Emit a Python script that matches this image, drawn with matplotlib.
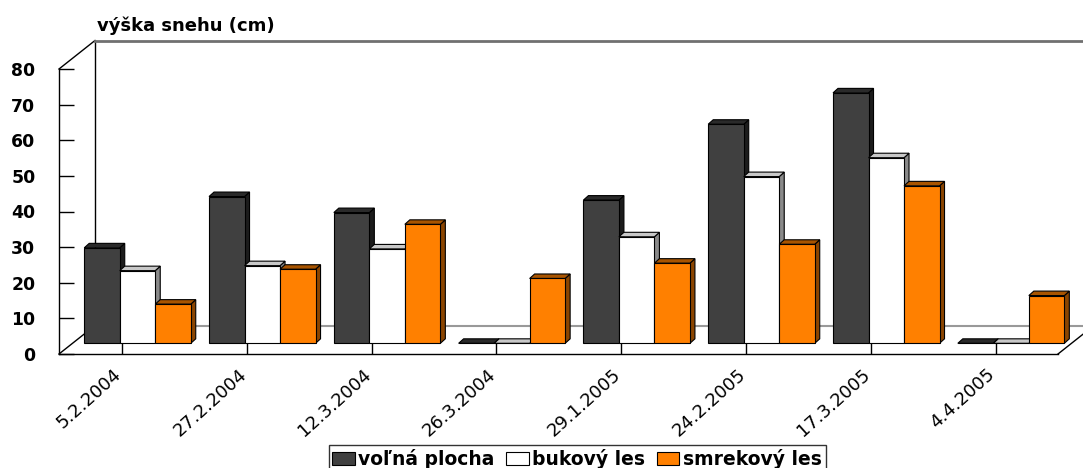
import matplotlib.pyplot as plt
import matplotlib.transforms as mtransforms
from matplotlib.patches import Polygon, Patch

# data
dates = ['5.2.2004', '27.2.2004', '12.3.2004', '26.3.2004',
         '29.1.2005', '24.2.2005', '17.3.2005', '4.4.2005']
volna_plocha = [26.8, 41.2, 36.7, 0, 40.2, 61.5, 70.3, 0]
bukovy_les = [20.4, 21.8, 26.5, 0, 29.9, 46.8, 52.1, 0]
smrekovy_les = [11.0, 20.8, 33.4, 18.2, 22.5, 27.8, 44.2, 13.4]
series_names = ['voľná plocha', 'bukový les', 'smrekový les']
y_ticks = [0, 10, 20, 30, 40, 50, 60, 70, 80]

# front, side, top colours for each series
face_cols = [('#404040', '#1c1c1c', '#2a2a2a'),
             ('#ffffff', '#8a8a8a', '#c8c8c8'),
             ('#ff8000', '#8b4500', '#a85400')]

W, H = 1083, 468
fig = plt.figure(figsize=(W / 100, H / 100), dpi=100)

# axes = front plane of the pseudo 3d box
ax = fig.add_axes([59 / W, 1 - 354 / H, (1058 - 59) / W, (354 - 69) / H])
xl, xr = -0.505, 7.5
ax.set_xlim(xl, xr)
ax.set_ylim(0, 80)
ax.patch.set_visible(False)
for s in ['top', 'right']:
    ax.spines[s].set_visible(False)
for s in ['left', 'bottom']:
    ax.spines[s].set_linewidth(1.0)
    ax.spines[s].set_color('black')

DX, DY = 0.2885, 8.0          # depth of the back wall (data units)
BAR_DX, BAR_DY = 0.124, 3.0   # depth where the bars stand
BDX, BDY = 0.04, 1.26         # thickness of the bars
bar_w = 0.2845

# walls / floor
line_kw = dict(clip_on=False, zorder=1)
ax.plot([xl, xl + DX], [80, 80 + DY], color='black', lw=1, **line_kw)
ax.plot([xl, xl + DX], [0, DY], color='black', lw=1, **line_kw)
ax.plot([xl + DX, xl + DX], [DY, 80 + DY], color='black', lw=1, **line_kw)
ax.plot([xl + DX, xr + DX + 0.3], [80 + DY, 80 + DY], color='#707070', lw=2, **line_kw)
ax.plot([xl + DX, xr + DX + 0.3], [DY, DY], color='#999999', lw=1.5, **line_kw)
ax.plot([xr, xr + DX], [0, DY], color='black', lw=1, **line_kw)

# bars
values = [volna_plocha, bukovy_les, smrekovy_les]
for i in range(len(dates)):
    for j in range(3):
        v = values[j][i]
        front_c, side_c, top_c = face_cols[j]
        x0 = i - 1.5 * bar_w + j * bar_w + BAR_DX
        x1 = x0 + bar_w
        base = BAR_DY
        top = base + v
        zo = 3 + i * 3 + j
        side = [(x1, base), (x1 + BDX, base + BDY), (x1 + BDX, top + BDY), (x1, top)]
        topf = [(x0, top), (x1, top), (x1 + BDX, top + BDY), (x0 + BDX, top + BDY)]
        front = [(x0, base), (x1, base), (x1, top), (x0, top)]
        for pts, c in [(side, side_c), (topf, top_c), (front, front_c)]:
            ax.add_patch(Polygon(pts, closed=True, facecolor=c, edgecolor='black',
                                 lw=0.8, zorder=zo, clip_on=False))

# ticks
ax.set_yticks(y_ticks)
ax.set_yticklabels([str(t) for t in y_ticks], fontsize=12.4, fontweight='bold')
ax.tick_params(axis='y', direction='in', length=10.8, width=1, pad=17)
ax.set_xticks(range(len(dates)))
ax.set_xticklabels(dates, rotation=42, ha='right', rotation_mode='anchor', fontsize=13)
ax.tick_params(axis='x', direction='in', length=7.9, width=1, pad=8)
shift = mtransforms.ScaledTranslation(-0.09, 0, fig.dpi_scale_trans)
for lab in ax.get_xticklabels():
    lab.set_transform(lab.get_transform() + shift)

fig.text(97 / W, 1 - 26 / H, 'výška snehu (cm)', fontsize=13, fontweight='bold',
         ha='left', va='center')

handles = [Patch(facecolor=face_cols[j][0], edgecolor='black', lw=0.8) for j in range(3)]
leg = fig.legend(handles, series_names, loc='upper center', ncol=3,
                 bbox_to_anchor=(577 / W, 1 - 445 / H), frameon=True, fancybox=False,
                 edgecolor='black', prop={'size': 13.5, 'weight': 'bold'},
                 handlelength=1.2, handleheight=0.7, handletextpad=0.2,
                 columnspacing=0.6, borderpad=0.2, borderaxespad=0)
leg.get_frame().set_linewidth(1)

fig.savefig('out.png', dpi=100)
